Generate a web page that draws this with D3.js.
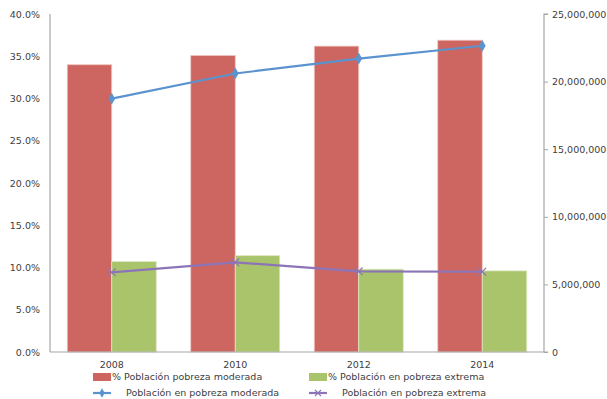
<!DOCTYPE html>
<html><head><meta charset="utf-8">
<script src="https://cdnjs.cloudflare.com/ajax/libs/d3/7.8.5/d3.min.js"></script>
<style>body{margin:0;background:#fff;} text{font-family:"DejaVu Sans",Verdana,sans-serif;fill:#404040;}</style>
</head><body><svg id="c" width="607" height="399"></svg>
<script>
const years = ["2008","2010","2012","2014"];
const pctModerada = [34.0, 35.1, 36.2, 36.9];
const pctExtrema = [10.7, 11.4, 9.8, 9.6];
const pobModerada = [18740000, 20600000, 21700000, 22650000];
const pobExtrema = [5890000, 6630000, 5970000, 5940000];
const leftTicks = [0,5,10,15,20,25,30,35,40];
const rightTicks = [0,5000000,10000000,15000000,20000000,25000000];
const legendLabels = ["% Población pobreza moderada","% Población en pobreza extrema","Población en pobreza moderada","Población en pobreza extrema"];

const colRed="#cd6660", colGreen="#a9c46a", colBlue="#5b93cf", colPurple="#8c74b8", axisCol="#a6a6a6";
const svg=d3.select("#c");
const L=50,R=544,T=14,B=352;
const x=d3.scaleBand().domain(years).range([L,R]);
const yl=d3.scaleLinear().domain([0,40]).range([B,T]);
const yr=d3.scaleLinear().domain([0,25000000]).range([B,T]);
const bw=44.5;

// bars
const g=svg.append("g");
g.selectAll(".r").data(years).enter().append("rect")
 .attr("x",d=>x(d)+x.bandwidth()/2-bw).attr("width",bw)
 .attr("y",(d,i)=>yl(pctModerada[i])).attr("height",(d,i)=>B-yl(pctModerada[i]))
 .attr("fill",colRed).attr("stroke","#f0c8c4").attr("stroke-width",0.8);
g.selectAll(".gr").data(years).enter().append("rect")
 .attr("x",d=>x(d)+x.bandwidth()/2).attr("width",bw)
 .attr("y",(d,i)=>yl(pctExtrema[i])).attr("height",(d,i)=>B-yl(pctExtrema[i]))
 .attr("fill",colGreen).attr("stroke","#dde8c4").attr("stroke-width",0.8);

// axes
const la=svg.append("g").attr("transform",`translate(${L},0)`)
 .call(d3.axisLeft(yl).tickValues(leftTicks).tickSize(0).tickPadding(10).tickFormat(d=>d.toFixed(1)+"%"));
const ra=svg.append("g").attr("transform",`translate(${R},0)`)
 .call(d3.axisRight(yr).tickValues(rightTicks).tickSize(4).tickPadding(4).tickFormat(d3.format(",")));
const ba=svg.append("g").attr("transform",`translate(0,${B})`)
 .call(d3.axisBottom(x).tickSize(0).tickPadding(9));
[la,ra,ba].forEach(a=>{a.selectAll("path").attr("stroke",axisCol).attr("stroke-width",1.2);
 a.selectAll("line").attr("stroke",axisCol);
 a.selectAll("text").style("font-size","9.5px").attr("fill","#404040").style("font-family","DejaVu Sans");});
ra.selectAll("text").attr("x",8);
ra.select("path").attr("d",`M4,${T}H0V${B}H4`);
la.select("path").attr("d",`M0,${T}V${B}`);
ba.select("path").attr("d",`M${L},0H${R}`);

// lines
const cx=d=>x(d)+x.bandwidth()/2;
const line=vals=>d3.line().x((d,i)=>cx(years[i])).y(d=>yr(d))(vals);
svg.append("path").attr("d",line(pobModerada)).attr("fill","none").attr("stroke",colBlue).attr("stroke-width",2.2);
svg.append("path").attr("d",line(pobExtrema)).attr("fill","none").attr("stroke",colPurple).attr("stroke-width",2.2);
const diamond=d3.symbol().type(d3.symbolDiamond).size(40);
svg.selectAll(".dm").data(pobModerada).enter().append("path").attr("d",diamond)
 .attr("transform",(d,i)=>`translate(${cx(years[i])},${yr(d)})`).attr("fill",colBlue);
svg.selectAll(".xm").data(pobExtrema).enter().append("path")
 .attr("d",d3.symbol().type(d3.symbolX).size(40))
 .attr("transform",(d,i)=>`translate(${cx(years[i])},${yr(d)})`).attr("fill","none").attr("stroke",colPurple).attr("stroke-width",1.2);

// legend
const lg=svg.append("g");
const items=[
 {x:93,y:377,type:"rect",c:colRed,tx:112},
 {x:309,y:377,type:"rect",c:colGreen,tx:328},
 {x:93,y:393,type:"line",c:colBlue,tx:126,m:"d"},
 {x:309,y:393,type:"line",c:colPurple,tx:342,m:"x"}];
items.forEach((it,i)=>{
 if(it.type==="rect") lg.append("rect").attr("x",it.x).attr("y",it.y-4).attr("width",18).attr("height",8).attr("fill",it.c);
 else{
  lg.append("line").attr("x1",it.x).attr("x2",it.x+18).attr("y1",it.y).attr("y2",it.y).attr("stroke",it.c).attr("stroke-width",2.2);
  if(it.m==="d") lg.append("path").attr("d",d3.symbol().type(d3.symbolDiamond).size(25)).attr("transform",`translate(${it.x+9},${it.y})`).attr("fill",it.c);
  else lg.append("path").attr("d",d3.symbol().type(d3.symbolX).size(25)).attr("transform",`translate(${it.x+9},${it.y})`).attr("fill","none").attr("stroke",it.c).attr("stroke-width",1.1);
 }
 lg.append("text").attr("x",it.tx).attr("y",it.y).attr("dy","0.35em").style("font-size","9.5px").text(legendLabels[i]);
});
</script></body></html>
